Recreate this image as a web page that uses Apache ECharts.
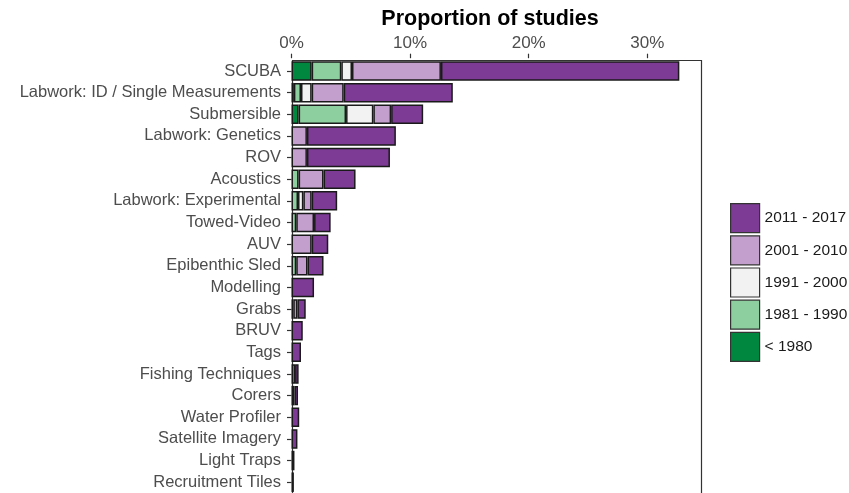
<!DOCTYPE html>
<html>
<head>
<meta charset="utf-8">
<script src="https://cdn.jsdelivr.net/npm/echarts@6/dist/echarts.min.js"></script>
<style>
  html, body { margin: 0; padding: 0; background: #ffffff; }
  #chart { width: 849px; height: 493px; }
</style>
</head>
<body>
<div id="chart"></div>
<script>
// Survey methods, ordered from most to least used
const methods = [
  'SCUBA', 'Labwork: ID / Single Measurements', 'Submersible', 'Labwork: Genetics',
  'ROV', 'Acoustics', 'Labwork: Experimental', 'Towed-Video', 'AUV', 'Epibenthic Sled',
  'Modelling', 'Grabs', 'BRUV', 'Tags', 'Fishing Techniques', 'Corers', 'Water Profiler',
  'Satellite Imagery', 'Light Traps', 'Recruitment Tiles'
];

// Share of studies (%) per method, split by publication period
const before1980 = [1.7, 0.2, 0.6, 0, 0, 0, 0, 0, 0, 0, 0, 0, 0, 0, 0, 0, 0, 0, 0, 0];
const period1981to1990 = [2.5, 0.6, 4.0, 0, 0, 0.6, 0.55, 0.4, 0, 0.4, 0, 0.15, 0, 0, 0, 0, 0, 0, 0, 0];
const period1991to2000 = [0.9, 0.9, 2.3, 0, 0, 0, 0.45, 0, 0, 0, 0, 0, 0, 0, 0, 0, 0, 0, 0.25, 0];
const period2001to2010 = [7.5, 2.7, 1.5, 1.3, 1.3, 2.1, 0.7, 1.5, 1.7, 0.95, 0, 0.35, 0, 0, 0.3, 0.25, 0, 0, 0, 0];
const period2011to2017 = [20.1, 9.2, 2.7, 7.5, 7.0, 2.7, 2.15, 1.4, 1.4, 1.35, 1.9, 0.7, 0.95, 0.8, 0.3, 0.3, 0.65, 0.5, 0, 0.2];

const periodNames = ['< 1980', '1981 - 1990', '1991 - 2000', '2001 - 2010', '2011 - 2017'];
const periodValues = [before1980, period1981to1990, period1991to2000, period2001to2010, period2011to2017];
const periodColors = ['#00873f', '#8dcf9f', '#f2f2f2', '#c29fcc', '#7d3b96'];

const xTicks = [0, 10, 20, 30];

const chart = echarts.init(document.getElementById('chart'), null, { renderer: 'canvas' });

const series = periodNames.map((name, i) => ({
  name: name,
  type: 'bar',
  stack: 'share',
  barCategoryGap: '10%',
  itemStyle: { color: periodColors[i], borderColor: '#1a1a1a', borderWidth: 1.5 },
  emphasis: { disabled: true },
  data: periodValues[i].map(v => (v > 0 ? v : null))
}));

chart.setOption({
  animation: false,
  backgroundColor: '#ffffff',
  textStyle: { fontFamily: 'Liberation Sans, Arial, sans-serif' },
  title: {
    text: 'Proportion of studies',
    left: 485,
    top: 3,
    textAlign: 'center',
    textStyle: { fontSize: 21.5, fontWeight: 'bold', color: '#000000', fontFamily: 'Liberation Sans, Arial, sans-serif' }
  },
  legend: {
    orient: 'vertical',
    left: 730,
    top: 203,
    padding: 0,
    itemWidth: 29,
    itemHeight: 29,
    itemGap: 2,
    icon: 'rect',
    data: periodNames.slice().reverse(),
    itemStyle: { borderColor: '#333333', borderWidth: 1.2 },
    textStyle: { fontSize: 15.5, color: '#1a1a1a' },
    selectedMode: false
  },
  grid: { left: 291.5, top: 60.2, width: 408, height: 433.6, containLabel: false },
  xAxis: {
    type: 'value',
    position: 'top',
    offset: 2,
    min: 0,
    max: 34.4,
    interval: 10,
    splitLine: { show: false },
    axisLine: { show: false },
    axisTick: { show: true, length: 4.5, customValues: xTicks, lineStyle: { color: '#333333', width: 1.2 } },
    axisLabel: { customValues: xTicks, formatter: '{value}%', fontSize: 17, color: '#4d4d4d', margin: 6 }
  },
  yAxis: {
    type: 'category',
    inverse: true,
    offset: 1.5,
    data: methods,
    axisLine: { show: false },
    axisTick: { show: true, alignWithLabel: true, interval: 0, length: 4.5, lineStyle: { color: '#333333', width: 1.2 } },
    axisLabel: { interval: 0, fontSize: 16.5, color: '#4d4d4d', margin: 9 }
  },
  graphic: [{
    type: 'rect',
    left: 290,
    top: 58,
    shape: { width: 409, height: 440 },
    style: { fill: 'none', stroke: '#333333', lineWidth: 1.2 },
    silent: true,
    z: 0
  }],
  series: series
});
</script>
</body>
</html>
